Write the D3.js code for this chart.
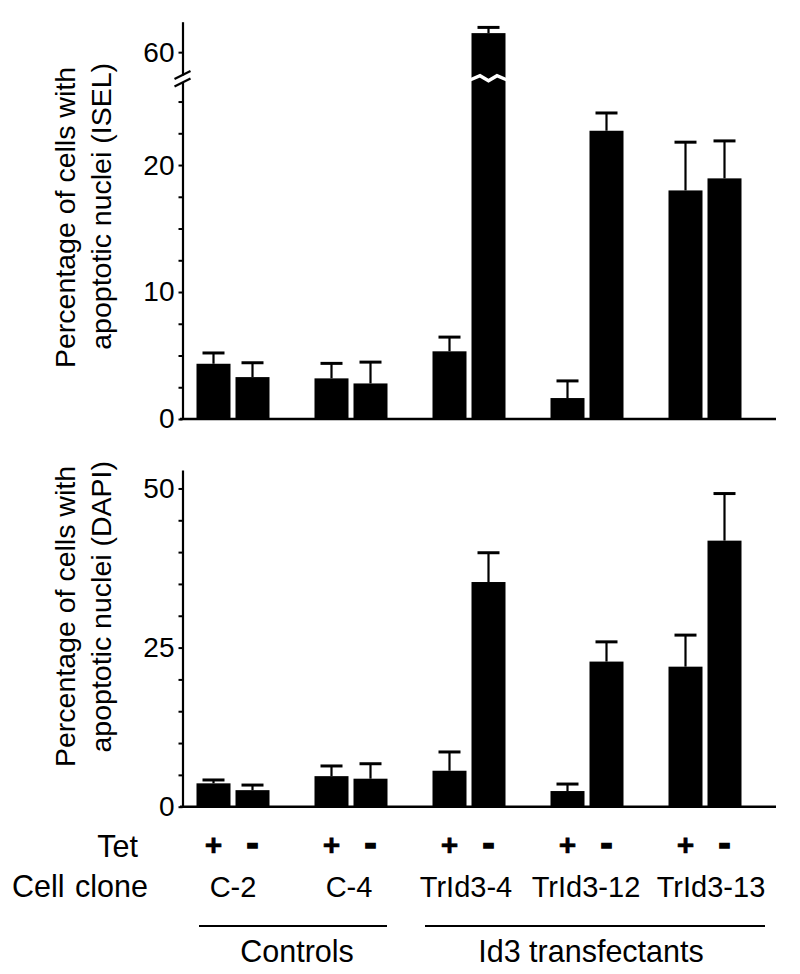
<!DOCTYPE html>
<html>
<head>
<meta charset="utf-8">
<script src="https://cdn.jsdelivr.net/npm/d3@7"></script>
<style>
  html, body { margin: 0; padding: 0; background: #fff; }
  svg { display: block; }
  text { font-family: "Liberation Sans", Arial, Helvetica, sans-serif; fill: #000; }
</style>
</head>
<body>
<svg id="chart" width="800" height="974"></svg>
<script>
// ---------------- data ----------------
const clones = ["C-2", "C-4", "TrId3-4", "TrId3-12", "TrId3-13"];
const tet = ["+", "-"];
const groupLabels = ["Controls", "Id3 transfectants"];

// ISEL (top panel): mean and upper error, Tet + and Tet -
const iselPlus      = [4.35, 3.2, 5.33, 1.65, 18.0];
const iselMinus     = [3.3, 2.8, 61.5, 22.7, 18.95];
const iselPlusErr   = [0.85, 1.18, 1.12, 1.35, 3.8];
const iselMinusErr  = [1.13, 1.68, 0.45, 1.4, 2.95];

// DAPI (bottom panel)
const dapiPlus      = [3.67, 4.8, 5.65, 2.46, 22.0];
const dapiMinus     = [2.6, 4.4, 35.3, 22.8, 41.8];
const dapiPlusErr   = [0.53, 1.6, 2.95, 1.1, 4.96];
const dapiMinusErr  = [0.8, 2.35, 4.6, 3.1, 7.4];

const iselLowTicks  = [0, 2.5, 5, 7.5, 10, 12.5, 15, 17.5, 20, 22.5, 25];
const iselHighTicks = [60];
const dapiTicks     = [0, 5, 10, 15, 20, 25, 30, 35, 40, 45, 50];
const iselLabelled  = [0, 10, 20, 60];
const dapiLabelled  = [0, 25, 50];

// ---------------- layout ----------------
const svg = d3.select("#chart");
const FS = 28;        // tick labels
const FS_TITLE = 28.5;
const FS_LAB = 30.5;  // bottom labels
const FS_CLONE = 29;
const axisX = 182.5;
const baseX0 = 180, baseX1 = 776;
const cloneNudge = [0, -2, -3, -1, 6];

const x0 = d3.scaleBand().domain(clones).range([174, 764]);
const x1 = d3.scaleBand().domain(tet).range([-36.5, 36.5]).paddingInner(5 / 39);
const barX = (c, t) => x0(c) + x0.bandwidth() / 2 + x1(t);
const barCx = (c, t) => barX(c, t) + x1.bandwidth() / 2;

function rows(plus, minus, plusErr, minusErr) {
  const out = [];
  clones.forEach((c, i) => {
    out.push({ clone: c, tet: "+", v: plus[i], e: plusErr[i] });
    out.push({ clone: c, tet: "-", v: minus[i], e: minusErr[i] });
  });
  return out;
}

// ---------- top panel (ISEL) with broken axis ----------
const yLow  = d3.scaleLinear().domain([0, 26.5]).range([419, 82.5]);
const yHigh = d3.scaleLinear().domain([58.2, 62.4]).range([75, 21.7]);
const yTop = v => (v > 26.5 ? yHigh(v) : yLow(v));

// ---------- bottom panel (DAPI) ----------
const yBot = d3.scaleLinear().domain([0, 52.9]).range([806.7, 470]);

function styleAxis(g) {
  g.select(".domain").attr("stroke", "#000").attr("stroke-width", 2.2);
  g.selectAll(".tick line").attr("stroke", "#000").attr("stroke-width", 2);
  g.selectAll(".tick text")
    .attr("font-size", FS)
    .attr("font-family", '"Liberation Sans", Arial, sans-serif')
    .attr("fill", "#000")
    .attr("x", -8);
}

const fmt = labelled => d => (labelled.includes(d) ? d3.format("d")(d) : "");

svg.append("g").attr("transform", `translate(${axisX},0)`)
  .call(d3.axisLeft(yLow).tickValues(iselLowTicks).tickFormat(fmt(iselLabelled)).tickSize(4).tickSizeOuter(0))
  .call(styleAxis);
svg.append("g").attr("transform", `translate(${axisX},0)`)
  .call(d3.axisLeft(yHigh).tickValues(iselHighTicks).tickFormat(fmt(iselLabelled)).tickSize(4).tickSizeOuter(0))
  .call(styleAxis);

// axis break slashes
[75, 82.5].forEach(cy => {
  svg.append("line")
    .attr("x1", axisX - 8).attr("y1", cy + 4)
    .attr("x2", axisX + 8).attr("y2", cy - 4)
    .attr("stroke", "#000").attr("stroke-width", 2.2);
});

svg.append("g").attr("transform", `translate(${axisX},0)`)
  .call(d3.axisLeft(yBot).tickValues(dapiTicks).tickFormat(fmt(dapiLabelled)).tickSize(4).tickSizeOuter(0))
  .call(styleAxis);

// baselines
[yLow(0), yBot(0)].forEach(y => {
  svg.append("line").attr("x1", baseX0).attr("x2", baseX1)
    .attr("y1", y).attr("y2", y).attr("stroke", "#000").attr("stroke-width", 2.6);
});

function drawBars(data, y) {
  const g = svg.append("g");
  const cap = 11;
  data.forEach(d => {
    const cx = barCx(d.clone, d.tet);
    g.append("line").attr("x1", cx).attr("x2", cx)
      .attr("y1", y(d.v)).attr("y2", y(d.v + d.e))
      .attr("stroke", "#000").attr("stroke-width", 2.2);
    g.append("line").attr("x1", cx - cap).attr("x2", cx + cap)
      .attr("y1", y(d.v + d.e)).attr("y2", y(d.v + d.e))
      .attr("stroke", "#000").attr("stroke-width", 3);
    g.append("rect")
      .attr("x", barX(d.clone, d.tet))
      .attr("width", x1.bandwidth())
      .attr("y", y(d.v))
      .attr("height", y(0) - y(d.v))
      .attr("fill", "#000");
  });
  return g;
}

const topData = rows(iselPlus, iselMinus, iselPlusErr, iselMinusErr);
drawBars(topData, yTop);
drawBars(rows(dapiPlus, dapiMinus, dapiPlusErr, dapiMinusErr), yBot);

// zig-zag white break across the broken bar(s)
topData.filter(d => d.v > 26.5).forEach(d => {
  const x = barX(d.clone, d.tet), w = x1.bandwidth();
  const yc = (yHigh.range()[0] + yLow.range()[1]) / 2;
  const pts = [
    [x - 1, yc + 1], [x + w * 0.25, yc - 3], [x + w * 0.5, yc + 2],
    [x + w * 0.75, yc - 3], [x + w + 1, yc + 1]
  ];
  svg.append("path").attr("d", d3.line()(pts))
    .attr("fill", "none").attr("stroke", "#fff").attr("stroke-width", 3.5);
});

// y-axis titles
function yTitle(lines) {
  lines.forEach(l => {
    svg.append("text")
      .attr("transform", `translate(${l.x},${l.y}) rotate(-90)`)
      .attr("text-anchor", "end")
      .attr("font-size", FS_TITLE)
      .text(l.t);
  });
}
yTitle([
  { t: "Percentage of cells with", x: 75, y: 67 },
  { t: "apoptotic nuclei (ISEL)", x: 110.5, y: 63 }
]);
yTitle([
  { t: "Percentage of cells with", x: 75, y: 466 },
  { t: "apoptotic nuclei (DAPI)", x: 110.5, y: 461 }
]);

// bottom labels
svg.append("text").attr("x", 138).attr("y", 857).attr("text-anchor", "end")
  .attr("font-size", FS_LAB).text("Tet");
svg.append("text").attr("x", 148).attr("y", 897).attr("text-anchor", "end")
  .attr("font-size", FS_LAB).attr("word-spacing", 2).text("Cell clone");

clones.forEach((c, i) => {
  tet.forEach(t => {
    svg.append("text")
      .attr("x", barCx(c, t)).attr("y", 855)
      .attr("text-anchor", "middle")
      .attr("font-size", t === "+" ? 30 : 36)
      .attr("font-weight", "bold")
      .attr("stroke", "#000")
      .attr("stroke-width", t === "+" ? 0.6 : 1.6)
      .text(t);
  });
  svg.append("text")
    .attr("x", x0(c) + x0.bandwidth() / 2 + cloneNudge[i]).attr("y", 897)
    .attr("text-anchor", "middle").attr("font-size", FS_CLONE).text(c);
});

// group brackets
const groups = [
  { label: groupLabels[0], x0: 199, x1: 387, cx: 297 },
  { label: groupLabels[1], x0: 425, x1: 765, cx: 591 }
];
groups.forEach(g => {
  svg.append("line").attr("x1", g.x0).attr("x2", g.x1)
    .attr("y1", 926).attr("y2", 926).attr("stroke", "#000").attr("stroke-width", 2);
  svg.append("text").attr("x", g.cx).attr("y", 962)
    .attr("text-anchor", "middle").attr("font-size", FS_LAB).text(g.label);
});
</script>
</body>
</html>
